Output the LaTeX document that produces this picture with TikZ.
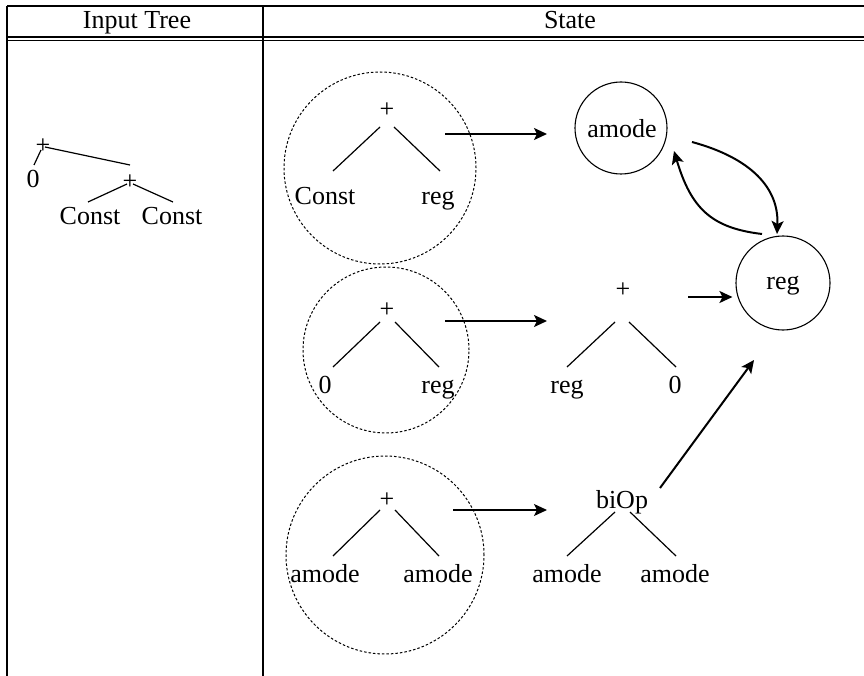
\documentclass[tikz,border=0pt]{standalone}
\usepackage{fontspec}
\setmainfont{Liberation Serif}
\usetikzlibrary{arrows.meta,calc}
\begin{document}
\begin{tikzpicture}[x=1pt,y=-1pt,
  every node/.style={font=\fontsize{26}{30}\selectfont, inner sep=0pt},
  lab/.style={anchor=base},
  rule/.style={line width=1.3pt},
  edge/.style={line width=1.2pt},
  grp/.style={draw, circle, dash pattern=on 2.5pt off 2pt, line width=1pt},
  st/.style={draw, circle, line width=1.1pt},
  arr/.style={line width=2pt, -{Stealth[length=13pt,width=12pt,inset=3pt]}},
  thinarr/.style={line width=1.2pt, -{Stealth[length=13pt,width=12pt,inset=3pt]}}]
\useasboundingbox (0,0) rectangle (864,676);
% table
\draw[rule] (7,6) -- (864,6);
\draw[rule] (7,37) -- (864,37);
\draw[rule] (7,40.5) -- (864,40.5);
\draw[rule] (7,6) -- (7,676);
\draw[rule] (263,6) -- (263,676);
\node[lab] (h1) at (137,29) {Input Tree};
\node[lab] (h2) at (570,29) {State};
% input tree
\node (ip) at (43,146) {+};
\node[lab] (i0) at (33,188) {0};
\node (iq) at (130,182) {+};
\node[lab] (ic1) at (90,225) {Const};
\node[lab] (ic2) at (172,225) {Const};
\draw[edge] ($(ip)+(2,1)$) -- ($(iq)+(0,-17)$);
\draw[edge] ($(ip)+(-2,4)$) -- ($(ip)+(-9,19)$);
\draw[edge] ($(iq)+(-3,2)$) -- ($(iq)+(-42,20)$);
\draw[edge] ($(iq)+(3,2)$) -- ($(iq)+(43,20)$);
% group 1
\node[grp, minimum size=192pt] (g1) at (380,168) {};
\node (p1) at (387,110) {+};
\node[lab] (c1a) at (325,205) {Const};
\node[lab] (c1b) at (438,205) {reg};
\draw[edge] ($(p1)+(-7,17)$) -- ($(p1)+(-54,61)$);
\draw[edge] ($(p1)+(7,17)$) -- ($(p1)+(53,61)$);
% group 2
\node[grp, minimum size=166pt] (g2) at (386,350) {};
\node (p2) at (387,310) {+};
\node[lab] (c2a) at (325,393) {0};
\node[lab] (c2b) at (438,393) {reg};
\draw[edge] ($(p2)+(-7,12)$) -- ($(p2)+(-54,57)$);
\draw[edge] ($(p2)+(8,12)$) -- ($(p2)+(52,57)$);
% group 3
\node[grp, minimum size=198pt] (g3) at (385,555) {};
\node (p3) at (387,500) {+};
\node[lab] (c3a) at (325,582) {amode};
\node[lab] (c3b) at (438,582) {amode};
\draw[edge] ($(p3)+(-7,10)$) -- ($(p3)+(-54,56)$);
\draw[edge] ($(p3)+(8,10)$) -- ($(p3)+(52,56)$);
% right tree 2
\node (r2) at (623,290) {+};
\node[lab] (r2a) at (567,393) {reg};
\node[lab] (r2b) at (675,393) {0};
\draw[edge] ($(r2)+(-8,32)$) -- ($(r2)+(-56,77)$);
\draw[edge] ($(r2)+(6,32)$) -- ($(r2)+(53,77)$);
% right tree 3
\node[lab] (bi) at (622,508) {biOp};
\draw[edge] ($(bi.base)+(-7,4)$) -- ($(bi.base)+(-55,48)$);
\draw[edge] ($(bi.base)+(8,4)$) -- ($(bi.base)+(54,48)$);
\node[lab] (b3a) at (567,582) {amode};
\node[lab] (b3b) at (675,582) {amode};
% states
\node[st, minimum size=92pt] (am) at (621,128) {};
\node[lab] (amt) at (622,138) {amode};
\node[st, minimum size=94pt] (rg) at (783,283) {};
\node[lab] (rgt) at (783,289) {reg};
% arrows
\draw[arr] ($(g1)+(65,-34)$) -- ($(am)+(-74,6)$);
\draw[arr] ($(g2)+(59,-29)$) -- ($(r2)+(-76,31)$);
\draw[thinarr] ($(g3)+(68,-45)$) -- ($(bi.base)+(-75,2)$);
\draw[arr] ($(rg)+(-95,14)$) -- ($(rg.west)+(-3,14)$);
\draw[arr] ($(bi.base)+(38,-20)$) -- ($(rg)+(-29,77)$);
\draw[arr] ($(am)+(71,14)$) .. controls ($(am)+(130,30)$) and ($(am)+(158,60)$) .. ($(am)+(156,106)$);
\draw[arr] ($(am)+(141,106)$) .. controls ($(am)+(90,100)$) and ($(am)+(70,80)$) .. ($(am)+(53,23)$);
\end{tikzpicture}
\end{document}
